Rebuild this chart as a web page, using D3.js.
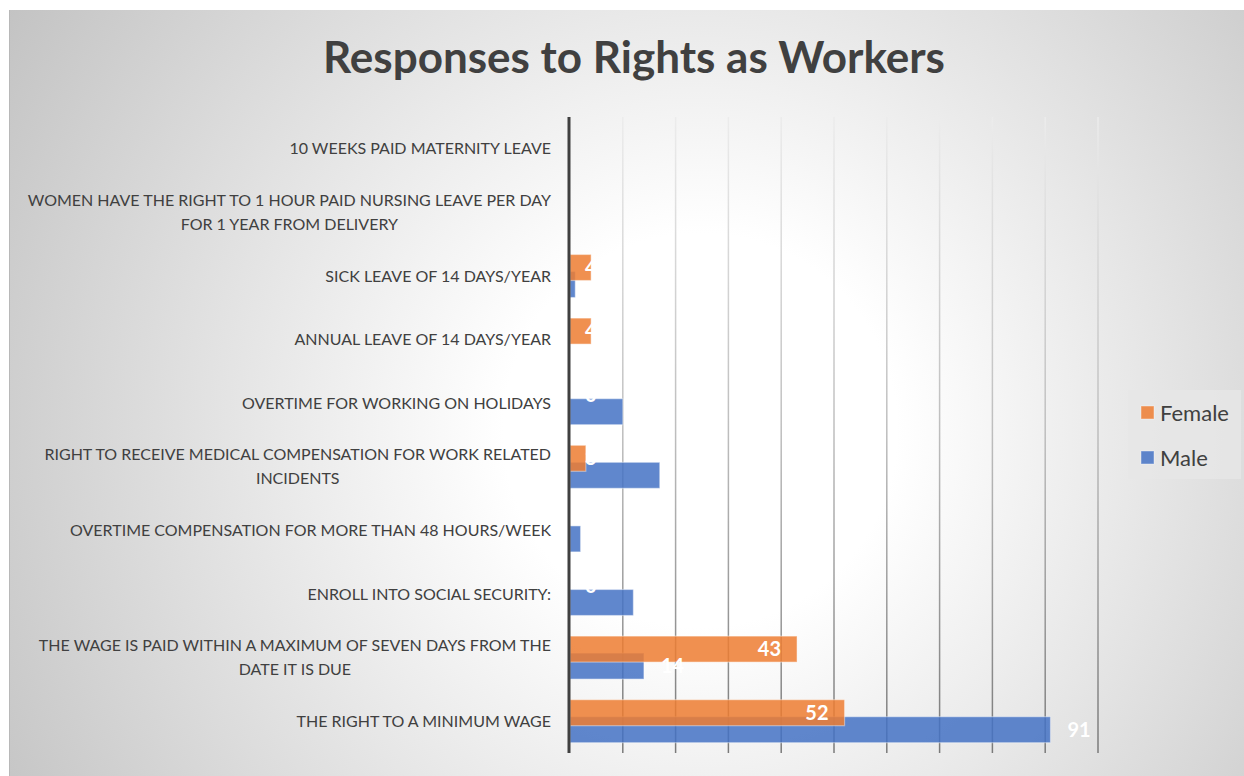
<!DOCTYPE html>
<html>
<head>
<meta charset="utf-8">
<script src="https://cdn.jsdelivr.net/npm/d3@7"></script>
<style>
  html, body { margin: 0; padding: 0; background: #fff; }
  svg { display: block; }
</style>
</head>
<body>
<svg id="chart"></svg>
<script>
// Categories, top to bottom as drawn
const categories = [
    '10 WEEKS PAID MATERNITY LEAVE',
    'WOMEN HAVE THE RIGHT TO 1 HOUR PAID NURSING LEAVE PER DAY FOR 1 YEAR FROM DELIVERY',
    'SICK LEAVE OF 14 DAYS/YEAR',
    'ANNUAL LEAVE OF 14 DAYS/YEAR',
    'OVERTIME FOR WORKING ON HOLIDAYS',
    'RIGHT TO RECEIVE MEDICAL COMPENSATION FOR WORK RELATED INCIDENTS',
    'OVERTIME COMPENSATION FOR MORE THAN 48 HOURS/WEEK',
    'ENROLL INTO SOCIAL SECURITY:',
    'THE WAGE IS PAID WITHIN A MAXIMUM OF SEVEN DAYS FROM THE DATE IT IS DUE',
    'THE RIGHT TO A MINIMUM WAGE'
];

// Series values, same order as categories
const femaleValues = [0, 0, 4, 4, 0, 3, 0, 0, 43, 52];
const maleValues   = [0, 0, 1, 0, 10, 17, 2, 12, 14, 91];

const seriesNames = ['Female', 'Male'];
const xTicks = [0, 10, 20, 30, 40, 50, 60, 70, 80, 90, 100];

const W = 1244, H = 776;
const plot = { left: 570, right: 1098, top: 117, bottom: 753 };

const svg = d3.select('#chart').attr('width', W).attr('height', H);
const defs = svg.append('defs');

// chart area background: radial grey gradient
const bg = defs.append('radialGradient')
    .attr('id', 'bg')
    .attr('gradientUnits', 'userSpaceOnUse')
    .attr('cx', 700).attr('cy', 430).attr('r', 820);
bg.append('stop').attr('offset', 0).attr('stop-color', '#ffffff');
bg.append('stop').attr('offset', 0.24).attr('stop-color', '#ffffff');
bg.append('stop').attr('offset', 1).attr('stop-color', '#c2c2c2');

// gridlines fade from light at top to darker at bottom
const gg = defs.append('linearGradient')
    .attr('id', 'grid')
    .attr('gradientUnits', 'userSpaceOnUse')
    .attr('x1', 0).attr('y1', plot.top).attr('x2', 0).attr('y2', plot.bottom);
gg.append('stop').attr('offset', 0).attr('stop-color', '#ececec');
gg.append('stop').attr('offset', 0.5).attr('stop-color', '#bdbdbd');
gg.append('stop').attr('offset', 1).attr('stop-color', '#7a7a7a');

svg.append('rect')
    .attr('x', 9).attr('y', 10)
    .attr('width', W - 9).attr('height', H - 10)
    .attr('fill', 'url(#bg)');
svg.append('line')
    .attr('x1', 9.5).attr('x2', 9.5).attr('y1', 10).attr('y2', H)
    .attr('stroke', '#b8b8b8');

// title
svg.append('text')
    .attr('x', 634).attr('y', 73)
    .attr('text-anchor', 'middle')
    .attr('font-family', 'Lato, sans-serif')
    .attr('font-weight', 'bold')
    .attr('font-size', 44)
    .attr('fill', '#404040')
    .text('Responses to Rights as Workers');

// scales
const x = d3.scaleLinear().domain([0, 100]).range([plot.left, plot.right]);
const y = d3.scaleBand().domain(categories).range([plot.top, plot.bottom]);
const color = d3.scaleOrdinal().domain(seriesNames).range(['#ED7D31', '#4472C4']);

// gridlines
svg.append('g')
    .selectAll('line')
    .data(xTicks.slice(1))
    .enter().append('line')
    .attr('x1', d => x(d)).attr('x2', d => x(d))
    .attr('y1', plot.top).attr('y2', plot.bottom)
    .attr('stroke', 'url(#grid)')
    .attr('stroke-width', 1.5);

// bars: male drawn first, female overlaps it
const barH = 26;
const rows = categories.map((c, i) => ({ cat: c, Female: femaleValues[i], Male: maleValues[i] }));
const mid = d => y(d.cat) + y.bandwidth() / 2;

['Male', 'Female'].forEach(s => {
    svg.append('g')
        .selectAll('rect')
        .data(rows.filter(r => r[s] > 0))
        .enter().append('rect')
        .attr('x', x(0))
        .attr('y', d => s === 'Female' ? mid(d) - 21.5 : mid(d) - 4.5)
        .attr('width', d => x(d[s]) - x(0))
        .attr('height', barH)
        .attr('fill', color(s))
        .attr('fill-opacity', 0.85)
        .attr('stroke', '#ffffff')
        .attr('stroke-opacity', 0.4)
        .attr('stroke-width', 1.2);
});

// value labels (white bold)
const wide = v => x(v) - x(0) > 50;
svg.append('g')
    .selectAll('text')
    .data(rows.filter(r => r.Female > 0 || r.Male > 0))
    .enter().append('text')
    .attr('x', d => wide(d.Female) ? x(d.Female) - 16 : x(0) + 15)
    .attr('y', d => mid(d) - 8.5)
    .attr('dy', '0.35em')
    .attr('text-anchor', d => wide(d.Female) ? 'end' : 'start')
    .attr('font-family', 'Lato, sans-serif')
    .attr('font-weight', 'bold')
    .attr('font-size', 20)
    .attr('fill', '#ffffff')
    .text(d => d.Female);

svg.append('g')
    .selectAll('text')
    .data(rows.filter(r => r.Male >= 10))
    .enter().append('text')
    .attr('x', d => x(d.Male) + 17)
    .attr('y', d => mid(d) + 8.5)
    .attr('dy', '0.35em')
    .attr('font-family', 'Lato, sans-serif')
    .attr('font-weight', 'bold')
    .attr('font-size', 20)
    .attr('fill', '#ffffff')
    .text(d => d.Male);

// vertical category axis line
svg.append('line')
    .attr('x1', x(0) - 1).attr('x2', x(0) - 1)
    .attr('y1', plot.top).attr('y2', plot.bottom)
    .attr('stroke', '#404040')
    .attr('stroke-width', 3);

// category labels, wrapped, lines centred on each other, block right-aligned
const labelRight = 551, maxW = 530, lineH = 24;
const labels = svg.append('g')
    .attr('font-family', 'Lato, sans-serif')
    .attr('font-size', 16)
    .attr('fill', '#404040');

categories.forEach(cat => {
    const t = labels.append('text').attr('text-anchor', 'middle');
    const words = cat.split(' ');
    const lines = [];
    let cur = [];
    words.forEach(w => {
        t.text([...cur, w].join(' '));
        if (cur.length && t.node().getComputedTextLength() > maxW) {
            lines.push(cur.join(' '));
            cur = [w];
        } else {
            cur.push(w);
        }
    });
    lines.push(cur.join(' '));
    const widths = lines.map(l => { t.text(l); return t.node().getComputedTextLength(); });
    t.text(null);
    const cx = labelRight - d3.max(widths) / 2;
    const y0 = y(cat) + y.bandwidth() / 2 - (lines.length - 1) * lineH / 2;
    lines.forEach((l, i) => {
        t.append('tspan')
            .attr('x', cx)
            .attr('y', y0 + i * lineH)
            .attr('dy', '0.35em')
            .text(l);
    });
});

// legend
const legend = svg.append('g');
legend.append('rect')
    .attr('x', 1128).attr('y', 390)
    .attr('width', 113).attr('height', 89)
    .attr('fill', '#e6e6e6')
    .attr('fill-opacity', 0.85);

const item = legend.selectAll('.legend-item')
    .data(seriesNames)
    .enter().append('g')
    .attr('class', 'legend-item')
    .attr('transform', (d, i) => `translate(1141, ${406 + i * 45})`);

item.append('rect')
    .attr('width', 13).attr('height', 13)
    .attr('fill', d => color(d))
    .attr('fill-opacity', 0.85)
    .attr('stroke', '#ffffff')
    .attr('stroke-opacity', 0.4);

item.append('text')
    .attr('x', 19).attr('y', 7)
    .attr('dy', '0.35em')
    .attr('font-family', 'Lato, sans-serif')
    .attr('font-size', 22)
    .attr('fill', '#404040')
    .text(d => d);
</script>
</body>
</html>
